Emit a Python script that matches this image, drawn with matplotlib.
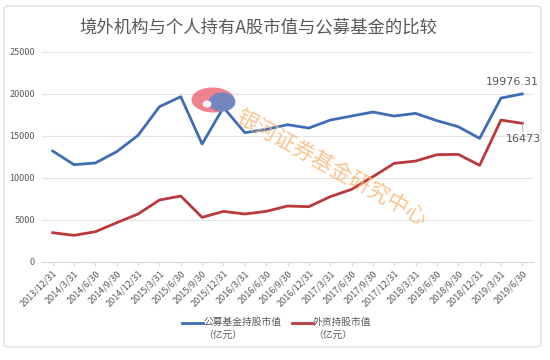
import matplotlib
matplotlib.use("Agg")
import matplotlib.pyplot as plt
from matplotlib.lines import Line2D
from matplotlib.patches import FancyBboxPatch, Ellipse

plt.rcParams['font.family'] = ['Noto Sans CJK SC', 'DejaVu Sans']

dates = ["2013/12/31", "2014/3/31", "2014/6/30", "2014/9/30", "2014/12/31",
         "2015/3/31", "2015/6/30", "2015/9/30", "2015/12/31", "2016/3/31",
         "2016/6/30", "2016/9/30", "2016/12/31", "2017/3/31", "2017/6/30",
         "2017/9/30", "2017/12/31", "2018/3/31", "2018/6/30", "2018/9/30",
         "2018/12/31", "2019/3/31", "2019/6/30"]
fund_values = [13180, 11550, 11750, 13100, 15040, 18450, 19640, 14010, 18370,
               15360, 15750, 16310, 15910, 16860, 17340, 17820, 17340, 17660,
               16790, 16070, 14680, 19480, 19976.31]
foreign_values = [3450, 3140, 3570, 4640, 5680, 7340, 7820, 5280, 5990, 5680,
                  5990, 6630, 6550, 7740, 8610, 10120, 11710, 11980, 12740,
                  12780, 11470, 16860, 16473]
fund_name = "公募基金持股市值\n（亿元）"
foreign_name = "外资持股市值\n（亿元）"
title = "境外机构与个人持有A股市值与公募基金的比较"
watermark = "银河证券基金研究中心"

blue = "#3F6DB3"
red = "#B9393C"
gray_text = "#595959"

fig = plt.figure(figsize=(5.5, 3.6), dpi=100)
fig.patch.set_facecolor("white")

# outer frame
frame = FancyBboxPatch((4 / 550, 1 - 347 / 360), 537 / 550, 341 / 360,
                       boxstyle="round,pad=0,rounding_size=0.008",
                       transform=fig.transFigure, facecolor="white",
                       edgecolor="#D9D9D9", linewidth=0.8, zorder=0)
fig.add_artist(frame)

ax = fig.add_axes([42 / 550, 1 - 261.7 / 360, 491 / 550, 210 / 360])
ax.set_facecolor("none")
x = list(range(len(dates)))
ax.plot(x, fund_values, color=blue, lw=2.0, zorder=3)
ax.plot(x, foreign_values, color=red, lw=2.0, zorder=3)

ax.set_xlim(-0.5, len(dates) - 0.5)
ax.set_ylim(0, 25000)
ax.set_yticks([0, 5000, 10000, 15000, 20000, 25000])
ax.set_yticklabels(["0", "5000", "10000", "15000", "20000", "25000"])
ax.set_xticks(x)
ax.set_xticklabels(dates, rotation=45, ha="right", rotation_mode="anchor")
ax.tick_params(axis="y", length=0, labelsize=6.5, labelcolor=gray_text, pad=5)
ax.tick_params(axis="x", length=3, color="#D9D9D9", labelsize=6.5,
               labelcolor=gray_text, pad=2)
ax.grid(axis="y", color="#E3E3E3", lw=0.8)
ax.set_axisbelow(True)
for s in ["top", "right", "left"]:
    ax.spines[s].set_visible(False)
ax.spines["bottom"].set_color("#D9D9D9")
ax.spines["bottom"].set_linewidth(0.8)

# data labels
ax.annotate(f"{fund_values[-1]:.2f}", (x[-1], fund_values[-1]),
            xytext=(-7, 5), textcoords="offset points", ha="center", va="bottom",
            fontsize=8, color=gray_text, family=["DejaVu Sans"])
ax.annotate(f"{foreign_values[-1]:.0f}", (x[-1], foreign_values[-1]),
            xytext=(1, -8), textcoords="offset points", ha="center", va="top",
            fontsize=8, color=gray_text, family=["DejaVu Sans"],
            arrowprops=dict(arrowstyle="-", color="#A6A6A6", lw=0.6,
                            shrinkA=0, shrinkB=0))

# title
fig.text(0.47, 1 - 27 / 360, title, ha="center", va="center", fontsize=12.5,
         color=gray_text)

# watermark logo + text
logo_r = Ellipse((213 / 550, 1 - 100 / 360), 43 / 550, 25 / 360, angle=-5,
                 transform=fig.transFigure, facecolor="#EE7480", edgecolor="none",
                 alpha=0.9, zorder=5)
fig.add_artist(logo_r)
logo_b = Ellipse((222 / 550, 1 - 102 / 360), 27 / 550, 19 / 360, angle=-5,
                 transform=fig.transFigure, facecolor="#6D86C4", edgecolor="none",
                 alpha=0.95, zorder=6)
fig.add_artist(logo_b)
logo_w = Ellipse((207 / 550, 1 - 104 / 360), 9 / 550, 7 / 360, angle=0,
                 transform=fig.transFigure, facecolor="white", edgecolor="none",
                 alpha=0.9, zorder=6)
fig.add_artist(logo_w)
fig.text(331 / 550, 1 - 168 / 360, watermark, ha="center", va="center",
         rotation=-29, fontsize=15.5, color="#F6B26B", alpha=0.75, zorder=6)

# legend (manual)
leg_y = 1 - 322.5 / 360
fig.add_artist(Line2D([182 / 550, 203 / 550], [leg_y, leg_y], color=blue, lw=2,
                      transform=fig.transFigure))
fig.text(203 / 550, leg_y + 5.5 / 360, fund_name, ha="left", va="top",
         fontsize=7, color=gray_text, linespacing=1.3)
fig.add_artist(Line2D([292 / 550, 313 / 550], [leg_y, leg_y], color=red, lw=2,
                      transform=fig.transFigure))
fig.text(313 / 550, leg_y + 5.5 / 360, foreign_name, ha="left", va="top",
         fontsize=7, color=gray_text, linespacing=1.3)

fig.savefig("out.png", dpi=100, facecolor="white")
